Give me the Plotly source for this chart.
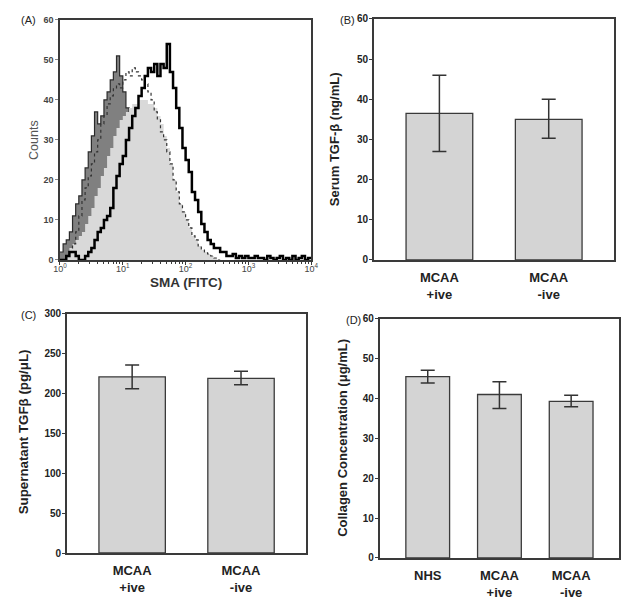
import numpy as np
import plotly.graph_objects as go

# ---------------- Panel A data (flow cytometry histograms) ----------------
# counts per bin; bins are 0.05 decades wide starting at 10^0
dark_gray_counts = [2, 4, 5, 7, 11, 14, 16, 20, 23, 27, 31, 37, 34, 36, 40, 42, 45, 47, 51, 46,
                    42, 38, 33, 27, 20, 14, 8, 4, 2, 0]
light_gray_counts = [0, 0, 1, 3, 4, 5, 6, 7, 9, 11, 13, 16, 18, 21, 23, 26, 28, 31, 33, 35,
                     36, 37, 38, 39, 39, 40, 40, 40, 39, 39, 38, 36, 34, 31, 28, 24, 20, 17, 14, 12,
                     10, 8, 6, 5, 3.5, 2.5, 2, 1.5, 1, 0.5, 0]
dotted_counts = [0, 0, 1, 2, 4, 7, 11, 15, 18, 21, 24, 27, 30, 34, 36, 39, 41, 43, 44, 43,
                 45, 47, 46, 48, 47, 46, 45, 44, 42, 40, 37, 35, 32, 30, 27, 24, 20, 17, 14, 12,
                 10, 8, 6, 5, 3.5, 2.5, 2, 1.5, 1, 0.5, 0]
black_counts = [0, 0, 1, 2, 2, 1, 0, 0, 1, 2, 3, 5, 7, 8, 10, 11, 13, 18, 21, 24,
                26, 30, 33, 36, 38, 41, 43, 46, 48, 47, 49, 46, 49, 48, 54, 47, 43, 38, 33, 28,
                25, 22, 17, 15, 12, 9, 7, 5, 4, 3, 3, 2, 2, 1, 1, 1.5, 0.5, 1, 0.5, 1,
                0.5, 0.5, 1, 0.5, 0.5, 0, 1, 0.5, 0, 0.5, 1, 0, 0.5, 0, 1, 0, 0.5, 1, 0, 0.5]
bin_width_decades = 0.05

a_yticks = [0, 10, 20, 30, 40, 50, 60]
a_xtickvals = [1, 10, 100, 1000, 10000]
a_xticktext = ["10<sup>0</sup>", "10<sup>1</sup>", "10<sup>2</sup>", "10<sup>3</sup>", "10<sup>4</sup>"]

# ---------------- Panel B ----------------
b_categories = ["MCAA<br>+ive", "MCAA<br>-ive"]
b_values = [36.5, 35.0]
b_err_plus = [9.5, 5.0]
b_err_minus = [9.5, 4.7]
b_yticks = [0, 10, 20, 30, 40, 50, 60]

# ---------------- Panel C ----------------
c_categories = ["MCAA<br>+ive", "MCAA<br>-ive"]
c_values = [221, 219]
c_err_plus = [15, 9]
c_err_minus = [15, 8]
c_yticks = [0, 50, 100, 150, 200, 250, 300]

# ---------------- Panel D ----------------
d_categories = ["NHS", "MCAA<br>+ive", "MCAA<br>-ive"]
d_values = [45.5, 41.0, 39.3]
d_err_plus = [1.6, 3.2, 1.5]
d_err_minus = [1.6, 3.5, 1.4]
d_yticks = [0, 10, 20, 30, 40, 50, 60]

FONT = "Arial, Liberation Sans, sans-serif"
BAR_FILL = "#d4d4d4"
EDGE = "#3a3a3a"
TXT = "#222222"

fig = go.Figure()


def step_xy(counts):
    n = len(counts)
    edges = 10 ** (np.arange(n + 1) * bin_width_decades)
    ys = list(counts) + [counts[-1]]
    return edges, ys


# Panel A traces
x, y = step_xy(dark_gray_counts)
fig.add_trace(go.Scatter(x=x, y=y, mode="lines", line=dict(shape="hv", color="#2a2a2a", width=1.2),
                         fill="tozeroy", fillcolor="#808080", xaxis="x", yaxis="y", showlegend=False))
x, y = step_xy(light_gray_counts)
fig.add_trace(go.Scatter(x=x, y=y, mode="lines", line=dict(shape="hv", color="rgba(0,0,0,0)", width=0.5),
                         fill="tozeroy", fillcolor="#d9d9d9", xaxis="x", yaxis="y", showlegend=False))
x, y = step_xy(dotted_counts)
fig.add_trace(go.Scatter(x=x, y=y, mode="lines", line=dict(shape="hv", color="#333333", width=1.2, dash="dot"),
                         xaxis="x", yaxis="y", showlegend=False))
x, y = step_xy(black_counts)
fig.add_trace(go.Scatter(x=x, y=y, mode="lines", line=dict(shape="hv", color="#000000", width=2.5),
                         xaxis="x", yaxis="y", showlegend=False))


def bold_cats(cats):
    return ["<b>" + c.replace("<br>", "</b><br><b>") + "</b>" for c in cats]


def bar_trace(cats, vals, ep, em, xa, ya):
    return go.Bar(x=bold_cats(cats), y=vals, width=0.61,
                  marker=dict(color=BAR_FILL, line=dict(color=EDGE, width=1.3)),
                  error_y=dict(type="data", array=ep, arrayminus=em, symmetric=False,
                               color="#333333", thickness=1.5, width=7),
                  xaxis=xa, yaxis=ya, showlegend=False)


fig.add_trace(bar_trace(b_categories, b_values, b_err_plus, b_err_minus, "x2", "y2"))
fig.add_trace(bar_trace(c_categories, c_values, c_err_plus, c_err_minus, "x3", "y3"))
fig.add_trace(bar_trace(d_categories, d_values, d_err_plus, d_err_minus, "x4", "y4"))

# page body has an 8px margin: the figure is shifted by OFF pixels
OFF = 8
W, H = 635 - OFF, 608 - OFF


def px_x(p):
    return (p - OFF) / W


def px_y(p):
    return 1 - (p - OFF) / H


def dx(a, b):
    return [px_x(a), px_x(b)]


def dy(top, bottom):
    return [px_y(bottom), px_y(top)]


minor_vals = [k * 10 ** d for d in range(4) for k in range(2, 10)]

axis_common = dict(showline=True, mirror=True, linecolor=EDGE, linewidth=1.5, showgrid=False, zeroline=False)


def yax(domain_x_anchor, top, bottom, ticks, rng):
    return dict(domain=dy(top, bottom), anchor=domain_x_anchor, range=rng, tickmode="array",
                tickvals=ticks, ticktext=["<b>%d</b>" % t for t in ticks],
                ticks="outside", ticklen=3, tickcolor=EDGE, ticklabelstandoff=-1,
                tickfont=dict(size=10, color=TXT), **axis_common)


def xax(domain_y_anchor, left, right, rng):
    return dict(domain=dx(left, right), anchor=domain_y_anchor, range=rng, ticks="",
                tickfont=dict(size=13, color=TXT), ticklabelstandoff=5, **axis_common)


fig.update_layout(
    width=W, height=H, margin=dict(l=0, r=0, t=0, b=0),
    paper_bgcolor="white", plot_bgcolor="white",
    font=dict(family=FONT, color="#333333"),
    # Panel A
    xaxis=dict(domain=dx(54, 311), anchor="y", type="log", range=[0, 4],
               tickmode="array", tickvals=a_xtickvals, ticktext=a_xticktext,
               ticks="outside", ticklen=3, tickcolor=EDGE, tickwidth=1,
               minor=dict(tickmode="array", tickvals=minor_vals, ticks="outside", ticklen=2, tickcolor=EDGE),
               tickfont=dict(size=9, color="#444444"), ticklabelstandoff=-4,
               **axis_common),
    yaxis=dict(domain=dy(14, 259), anchor="x", range=[0, 60], tickmode="array", tickvals=a_yticks,
               ticktext=["<b>%d</b>" % t for t in a_yticks],
               ticks="outside", ticklen=3, tickcolor="#888888",
               tickfont=dict(size=9, color="#444444"),
               **axis_common),
    xaxis2=xax("y2", 375, 621, [-0.6, 1.6]),
    yaxis2=yax("x2", 13, 259, b_yticks, [0, 60]),
    xaxis3=xax("y3", 61, 306, [-0.6, 1.6]),
    yaxis3=yax("x3", 314, 558, c_yticks, [0, 300]),
    xaxis4=xax("y4", 381, 626, [-0.67, 2.67]),
    yaxis4=yax("x4", 319, 563, d_yticks, [0, 60]),
)

# panel letters
for txt, px, py in [("(A)", 12, 14), ("(B)", 338, 14), ("(C)", 12, 315), ("(D)", 345, 320)]:
    fig.add_annotation(text=txt, x=px_x(px), y=px_y(py), xref="paper", yref="paper",
                       xanchor="left", yanchor="middle", showarrow=False,
                       font=dict(size=11, color=TXT, family=FONT))

# axis titles
titles = [
    ("<b>SMA (FITC)</b>", 183, 282, 0, 13.5, "#333333"),
    ("Counts", 28, 137, -90, 12.5, "#555555"),
    ("<b>Serum TGF-β (ng/mL)</b>", 335, 136, -90, 13, TXT),
    ("<b>Supernatant TGFβ (pg/μL)</b>", 17, 434, -90, 13.3, TXT),
    ("<b>Collagen Concentration (μg/mL)</b>", 343, 441, -90, 13, TXT),
]
for txt, px, py, ang, size, col in titles:
    fig.add_annotation(text=txt, x=px_x(px), y=px_y(py), xref="paper", yref="paper",
                       xanchor="center", yanchor="middle", showarrow=False, textangle=ang,
                       font=dict(size=size, color=col, family=FONT))

fig.write_html("out.html")
